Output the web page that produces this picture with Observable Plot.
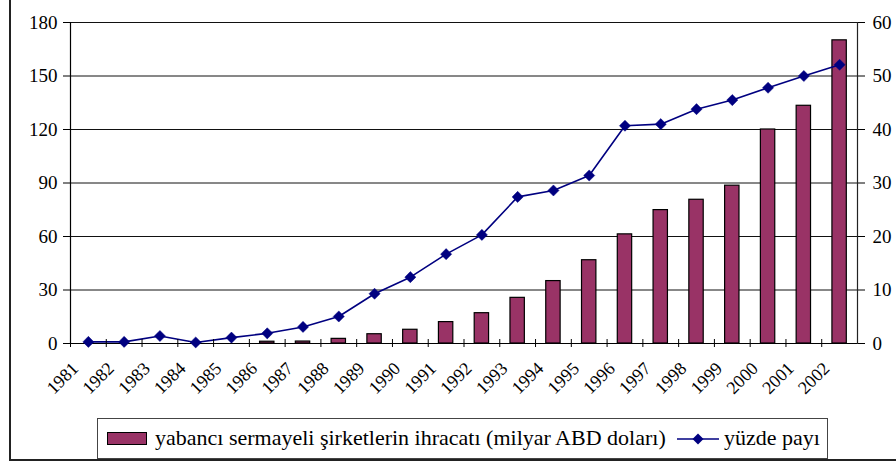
<!DOCTYPE html>
<html>
<head>
<meta charset="utf-8">
<script src="https://cdn.jsdelivr.net/npm/d3@7"></script>
<script src="https://cdn.jsdelivr.net/npm/@observablehq/plot@0.6"></script>
<style>
  html, body { margin: 0; padding: 0; background: #fff; }
  #wrap { position: relative; width: 896px; height: 467px; overflow: hidden; font-family: "Liberation Serif", "Times New Roman", Tinos, "DejaVu Serif", serif; }
  #chart { position: absolute; left: 0; top: 0; }
  #border { position: absolute; left: 9px; top: -10px; width: 1000px; height: 471px; border: 2px solid #222; box-sizing: border-box; pointer-events: none; }
  #legend { position: absolute; left: 97px; top: 418px; width: 731px; height: 41px; border: 1px solid #444; box-sizing: border-box; font-size: 22px; color: #000; background: #fff; }
  #legend .sw { position: absolute; left: 9px; top: 13px; width: 40px; height: 13px; background: #993366; border: 1.5px solid #000; box-sizing: border-box; }
  #legend .t1 { position: absolute; left: 57px; top: 4px; white-space: nowrap; line-height: 30px; }
  #legend .ln { position: absolute; left: 579px; top: 12px; width: 42px; height: 16px; }
  #legend .t2 { position: absolute; left: 626px; top: 4px; white-space: nowrap; line-height: 30px; }
</style>
</head>
<body>
<div id="wrap">
  <div id="chart"></div>
  <div id="border"></div>
  <div id="legend"></div>
</div>
<script>
const years = [1981, 1982, 1983, 1984, 1985, 1986, 1987, 1988, 1989, 1990, 1991,
               1992, 1993, 1994, 1995, 1996, 1997, 1998, 1999, 2000, 2001, 2002];
const exportsBn = [0, 0, 0, 0, 0, 1.0, 1.1, 2.6, 5.2, 7.7, 12.0,
                   17.0, 25.6, 35.0, 46.7, 61.2, 74.8, 80.6, 88.5, 120.0, 133.3, 170.0];
const sharePct = [0.3, 0.3, 1.4, 0.2, 1.1, 1.9, 3.1, 5.05, 9.3, 12.4, 16.7,
                  20.3, 27.4, 28.6, 31.4, 40.7, 41.0, 43.8, 45.5, 47.8, 50.0, 52.1];
const leftTicks = [0, 30, 60, 90, 120, 150, 180];
const rightTicks = [0, 10, 20, 30, 40, 50, 60];
const seriesNames = ["yabancı sermayeli şirketlerin ihracatı (milyar ABD doları)", "yüzde payı"];

const leftMax = leftTicks[leftTicks.length - 1];
const rightMax = rightTicks[rightTicks.length - 1];
const ratio = leftMax / rightMax;

const data = years.map((year, i) => ({year, exports: exportsBn[i], share: sharePct[i]}));

const W = 896, H = 467, mL = 70, mR = 39, mT = 22, mB = 124;
const bw = (W - mL - mR) / years.length;
const barColor = "#993366";
const lineColor = "#000080";
const serif = "'Liberation Serif', 'Times New Roman', Tinos, 'DejaVu Serif', serif";

const chart = Plot.plot({
  width: W,
  height: H,
  marginLeft: mL,
  marginRight: mR,
  marginTop: mT,
  marginBottom: mB,
  style: {fontFamily: serif, fontSize: "19px", color: "#000", background: "transparent"},
  x: {type: "band", domain: years, padding: 0, round: false},
  y: {domain: [0, leftMax]},
  marks: [
    Plot.ruleY(leftTicks.slice(1), {stroke: "#111", strokeWidth: 1}),
    Plot.barY(data, {x: "year", y: "exports", fill: barColor, stroke: "#000", strokeWidth: 1.2, insetLeft: 10.7, insetRight: 10.7}),
    Plot.ruleY([0], {stroke: "#000", strokeWidth: 1.2}),
    Plot.frame({anchor: "left", stroke: "#000", strokeWidth: 1.2}),
    Plot.frame({anchor: "right", stroke: "#222", strokeWidth: 1.2}),
    Plot.line(data, {x: "year", y: d => d.share * ratio, stroke: lineColor, strokeWidth: 1.6}),
    Plot.dot(data, {x: "year", y: d => d.share * ratio, symbol: "diamond2", r: 5, fill: lineColor, stroke: lineColor, strokeWidth: 0.5}),
    Plot.axisY(leftTicks, {anchor: "left", tickSize: 7, tickPadding: 6, label: null, fontSize: 19, fontFamily: serif}),
    Plot.axisY(rightTicks.map(v => v * ratio), {anchor: "right", tickFormat: d => d / ratio, tickSize: 7, tickPadding: 8, label: null, fontSize: 19, fontFamily: serif}),
    Plot.axisX({tickSize: 8, dy: -4, dx: -bw / 2, tickFormat: () => "", label: null}),
    Plot.axisX({tickSize: 0, tickPadding: 22, tickRotate: -45, dx: -13, label: null, fontSize: 18, fontFamily: serif, tickFormat: d => String(d)})
  ]
});
document.getElementById("chart").appendChild(chart);

const legend = document.getElementById("legend");
legend.innerHTML = `
  <div class="sw"></div>
  <div class="t1"></div>
  <svg class="ln" width="42" height="16" viewBox="0 0 42 16">
    <line x1="0" y1="8" x2="42" y2="8" stroke="${lineColor}" stroke-width="1.6"/>
    <path d="M21,2.5 L26.5,8 L21,13.5 L15.5,8 Z" fill="${lineColor}"/>
  </svg>
  <div class="t2"></div>`;
legend.querySelector(".t1").textContent = seriesNames[0];
legend.querySelector(".t2").textContent = seriesNames[1];
</script>
</body>
</html>
